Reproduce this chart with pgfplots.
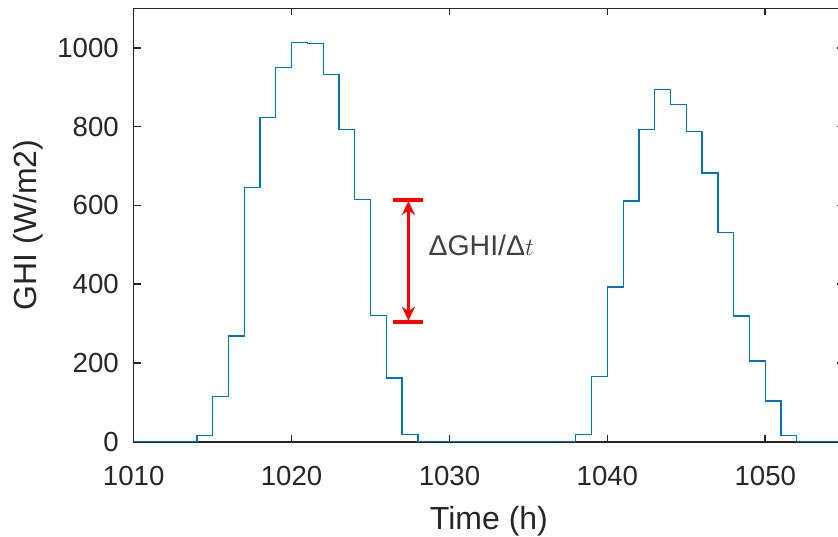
\documentclass[border=0pt]{standalone}
\usepackage{pgfplots}
\pgfplotsset{compat=1.18}
\usepackage{fontspec}
\setmainfont{Liberation Sans}
\usetikzlibrary{arrows.meta,calc}
\definecolor{mblue}{rgb}{0,0.447,0.741}
\definecolor{axgray}{rgb}{0.15,0.15,0.15}
\definecolor{txtgray}{rgb}{0.25,0.25,0.25}
\begin{document}
\fontsize{27}{32}\selectfont
\begin{tikzpicture}
\begin{axis}[
  scale only axis, width=710.5pt, height=433.4pt,
  xmin=1010, xmax=1055, ymin=0, ymax=1100,
  xtick={1010,1020,1030,1040,1050}, ytick={0,200,400,600,800,1000},
  tick align=inside, major tick length=7pt,
  axis line style={axgray, line width=1.6pt},
  every tick/.style={axgray, line width=1.6pt},
  tick label style={font=\fontsize{27.6}{32}\selectfont, text=axgray},
  xticklabel style={anchor=base, inner sep=0pt, yshift=-43.3pt},
  yticklabel style={anchor=east, inner sep=0pt, xshift=-14.7pt},
  every axis x label/.style={at={(axis description cs:0.5,-0.2030)}, anchor=base, inner sep=0pt, font=\fontsize{32}{36}\selectfont, text=axgray},
  every axis y label/.style={at={(axis description cs:-0.1375,0.5)}, rotate=90, anchor=base, inner sep=0pt, font=\fontsize{32}{36}\selectfont, text=axgray},
  /pgf/number format/assume math mode=true,
  /pgf/number format/1000 sep={},
  xlabel={Time (h)}, ylabel={GHI (W/m2)},
  clip=false,
]
\addplot[const plot, mblue, line width=1.3pt] coordinates {
(1010,0) (1014,15) (1015,114) (1016,268) (1017,645) (1018,823) (1019,949)
(1020,1013) (1021,1011) (1022,932) (1023,793) (1024,614) (1025,320)
(1026,162) (1027,18) (1028,0) (1038,18) (1039,165) (1040,393) (1041,611)
(1042,793) (1043,894) (1044,855) (1045,788) (1046,682) (1047,531)
(1048,319) (1049,205) (1050,103) (1051,15) (1052,0) (1055,0)};
\addplot[red, line width=4pt] coordinates {(1026.45,613) (1028.35,613)};
\addplot[red, line width=4pt] coordinates {(1026.45,305) (1028.35,305)};
\addplot[red, line width=2.7pt, {Stealth[length=14pt,width=13pt]}-{Stealth[length=14pt,width=13pt]}] coordinates {(1027.4,307) (1027.4,611)};
\node[anchor=west, inner sep=0pt, text=txtgray, font=\fontsize{28.5}{32}\selectfont] at (axis cs:1028.66,499) {ΔGHI/Δ$t$};
\end{axis}
\pgfresetboundingbox
\path ($(current axis.south west)+(-133.7pt,-94.3pt)$) rectangle ($(current axis.north west)+(704.3pt,8.3pt)$);
\end{tikzpicture}
\end{document}
